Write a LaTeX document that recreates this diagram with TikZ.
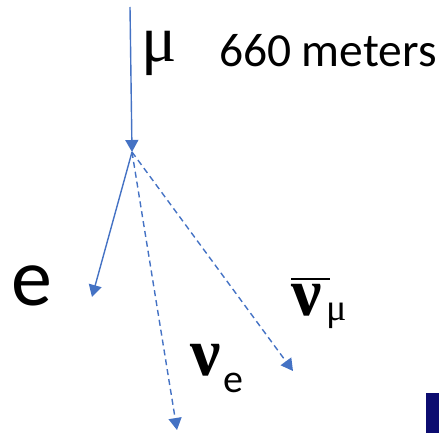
\documentclass[tikz,border=0pt]{standalone}
\usepackage{fontspec}
\setmainfont{Carlito}
\newfontfamily\grkfont{Liberation Serif}
\usepackage{xcolor}
\usetikzlibrary{arrows.meta,positioning}
\definecolor{trk}{RGB}{68,114,196}
\definecolor{navy}{RGB}{12,12,112}

\begin{document}
\begin{tikzpicture}[x=1pt,y=-1pt,
          track/.style={draw=trk,line width=1.4pt,-{Triangle[length=12pt,width=13pt]}},
          nutrack/.style={track,dash pattern=on 6pt off 4pt},
          lbl/.style={anchor=base west,inner sep=0pt,outer sep=0pt}]
        \useasboundingbox (0,0) rectangle (439,433);
        \coordinate (top) at (130,7);
        \coordinate (vtx) at (132,152);
        \coordinate (eend) at (92,297);
        \coordinate (neend) at (177,430);
        \coordinate (nmend) at (293,371);
        \draw[track] (top)--(vtx);
        \draw[track] (vtx)--(eend);
        \draw[nutrack] (vtx)--(neend);
        \draw[nutrack] (vtx)--(nmend);
        \node[lbl,font=\fontsize{66}{66}\grkfont\selectfont] (mu) at (141,62) {μ};
        \node[lbl,font=\fontsize{47.5}{48}\selectfont] (dist) at (219,67) {660 meters};
        \node[lbl,font=\fontsize{82}{82}\selectfont] (e) at (11,305) {e};
        \node[lbl,font=\fontsize{68}{68}\grkfont\bfseries] (nue) at (190,375) {ν};
        \node[lbl,font=\fontsize{40}{40}\selectfont] (nuesub) at (223,392) {e};
        \node[lbl,font=\fontsize{68}{68}\grkfont\bfseries] (numu) at (291,315)
          {\makebox[0pt][l]{\raisebox{35pt}{\rule{39pt}{2.5pt}}}ν};
        \node[lbl,font=\fontsize{38}{38}\grkfont\selectfont] (numusub) at (326,320) {μ};
        \fill[navy] (426,393) rectangle (439,433);
      \end{tikzpicture}
\end{document}
